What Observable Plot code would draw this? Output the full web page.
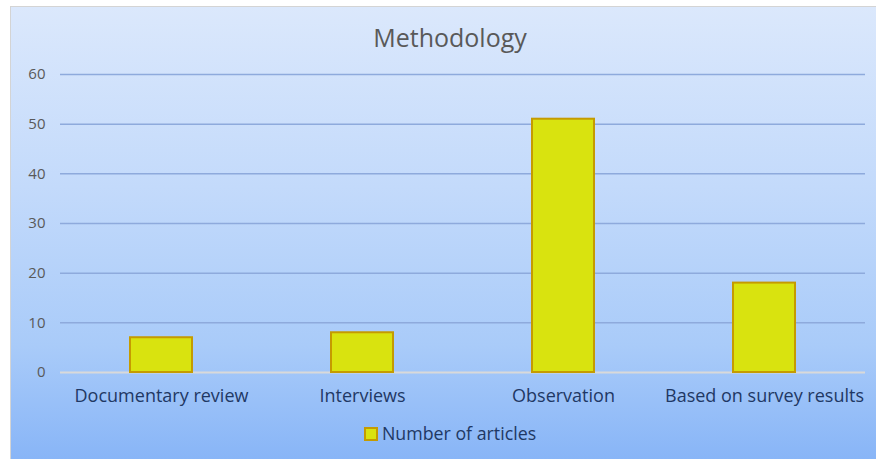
<!DOCTYPE html>
<html>
<head>
<meta charset="utf-8">
<script src="https://cdn.jsdelivr.net/npm/d3@7"></script>
<script src="https://cdn.jsdelivr.net/npm/@observablehq/plot@0.6"></script>
<style>
  body { margin: 0; background: #fff; font-family: "Open Sans", Lato, sans-serif; }
  #outer { width: 876px; height: 459px; position: relative; overflow: hidden; }
  #panel {
    position: absolute; left: 10px; top: 6px; width: 866px; height: 453px;
    border-left: 1px solid #d4d4d4; border-top: 1px solid #d4d4d4; box-sizing: border-box;
    background: linear-gradient(to bottom, #dbe8fc 0%, #c3dafb 40%, #a9cbf9 75%, #88b5f7 100%);
  }
  #title { position: absolute; left: 0; top: 13px; width: 878px; text-align: center;
    font-size: 25px; color: #595959; }
  #chart { position: absolute; left: 0; top: 48px; }
  #legend { position: absolute; left: 0; top: 414px; width: 878px; text-align: center;
    font-size: 17.8px; color: #1f3864; }
  #legend .sw { display: inline-block; width: 10px; height: 10px; background: #d9e30f;
    border: 2px solid #c59b00; vertical-align: -1px; margin-right: 4px; }
</style>
</head>
<body>
<div id="outer">
  <div id="panel">
    <div id="title">Methodology</div>
    <div id="chart"></div>
    <div id="legend"><span class="sw"></span>Number of articles</div>
  </div>
</div>
<script>
const categories = ["Documentary review", "Interviews", "Observation", "Based on survey results"];
const values = [7, 8, 51, 18];
const yTicks = [0, 10, 20, 30, 40, 50, 60];
const seriesName = "Number of articles";

const data = categories.map((c, i) => ({category: c, value: values[i]}));

const chart = Plot.plot({
  width: 865,
  height: 365,
  marginLeft: 49,
  marginRight: 11,
  marginTop: 19,
  marginBottom: 48,
  style: {background: "transparent", fontFamily: "'Open Sans', Lato, sans-serif", overflow: "visible"},
  x: {domain: categories, paddingInner: 0.69, paddingOuter: 0.345, label: null},
  y: {domain: [0, 60], label: null},
  marks: [
    Plot.gridY(yTicks.filter(d => d > 0), {stroke: "#8eaadc", strokeOpacity: 1, strokeWidth: 1.5}),
    Plot.ruleY([0], {stroke: "#d9d9d9", strokeWidth: 2}),
    Plot.axisY({ticks: yTicks, tickSize: 0, tickPadding: 15, fontSize: 15, color: "#595959", label: null}),
    Plot.axisX({tickSize: 0, tickPadding: 17, fontSize: 18, color: "#1f3864", label: null}),
    Plot.barY(data, {x: "category", y: "value", fill: "#d9e30f", stroke: "#c59b00", strokeWidth: 2, title: d => `${seriesName}: ${d.value}`})
  ]
});
document.getElementById("chart").appendChild(chart);
</script>
</body>
</html>
